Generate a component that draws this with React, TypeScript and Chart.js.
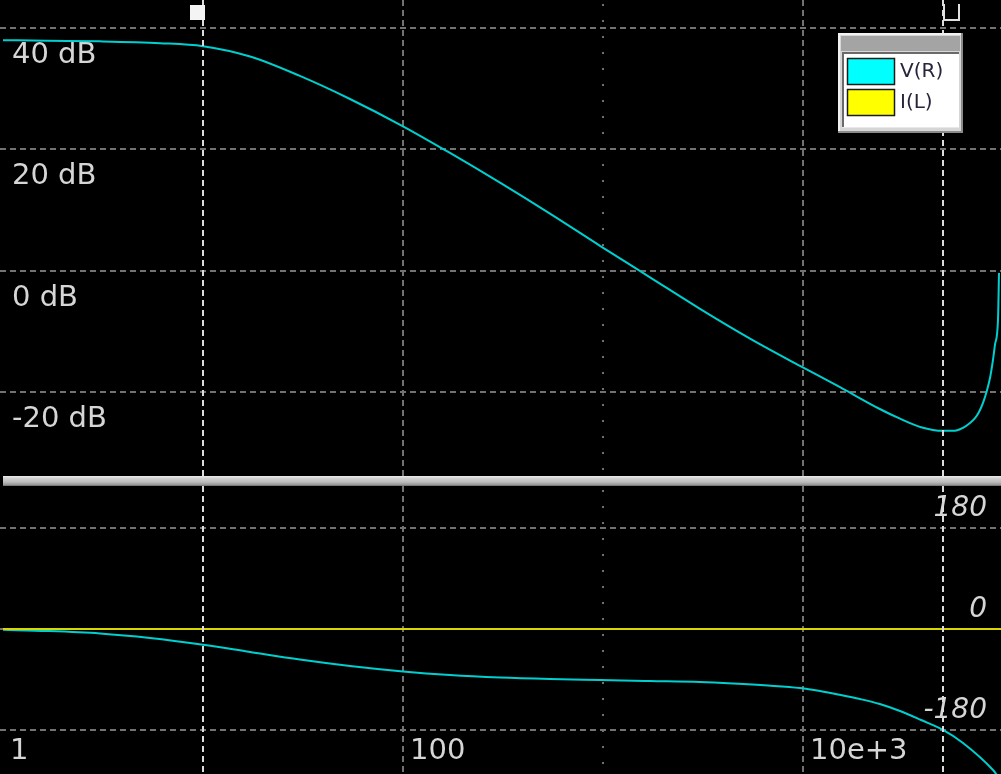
import React, { useEffect, useRef } from "react";
import { Chart, registerables } from "chart.js";

Chart.register(...registerables);

// ---- data ----
const seriesNames = ["V(R)", "I(L)"];

// V(R) magnitude (dB) against frequency (Hz)
const magFreqHz = [
  1, 1.66, 3.05, 6.1, 10, 17.2, 30.5, 54.3, 100, 171.8, 305.5, 543, 966, 1718,
  3055, 5433, 9661, 15311, 24210, 30549, 38905, 50119, 57544, 63096, 68391,
  72444, 75858, 79433, 83176, 86099, 89125, 91201, 94406, 95499,
];
const magDb = [
  38.0, 37.9, 37.8, 37.5, 37.0, 35.3, 32.1, 28.3, 23.8, 19.4, 14.5, 9.4, 4.1,
  -1.1, -6.3, -11.2, -15.7, -19.2, -22.8, -24.4, -25.8, -26.4, -26.4, -25.9,
  -25.1, -24.3, -23.3, -21.8, -19.7, -17.7, -14.7, -12.2, -8.1, -0.4,
];

// V(R) phase (degrees) against frequency (Hz)
const phaseFreqHz = [
  1, 1.66, 3.05, 5.43, 10, 17.2, 30.5, 54.3, 100, 171.8, 305.5, 543, 966, 1718,
  3055, 4467, 6683, 9661, 12162, 15311, 19275, 24210, 30549, 38905, 50119,
  63096, 89125, 93325,
];
const phaseDeg = [
  -1.5, -3.6, -8.0, -16.0, -28.0, -41.0, -54.5, -66.0, -75.7, -82.0, -86.4,
  -89.1, -90.9, -92.7, -94.5, -97.1, -100.7, -105.2, -110.5, -117.3, -124.8,
  -133.7, -146.2, -162.2, -180.0, -203.2, -251.3, -260.2,
];

// I(L) phase (degrees)
const currentFreqHz = [1, 97724];
const currentPhaseDeg = [0, 0];

// axes
const freqMin = 0.96605;
const freqMax = 97724;
const magMin = -33.846;
const magMax = 44.615;
const phaseMin = -258.42;
const phaseMax = 254.85;

const magTicks = [40, 20, 0, -20];
const phaseTicks = [180, 0, -180];
const freqLabelValues = [1, 100, 10000];
const freqLabelText = ["1", "100", "10e+3"];
const majorFreqGrid = [100, 10000];
const minorFreqGrid = [1000];
const cursorFreqs = [10, 50119];

// ---- styles ----
const GRID_COLOR = "#727272";
const CURSOR_COLOR = "#dcdcdc";
const LABEL_COLOR = "#d6d6d6";
const VR_LINE = "#00cfcf";
const IL_LINE = "#d8d800";
const SWATCHES = ["#00ffff", "#ffff00"];
const FONT = '"DejaVu Sans", Verdana, sans-serif';

function hLine(ctx: CanvasRenderingContext2D, x0: number, x1: number, y: number) {
  ctx.beginPath();
  ctx.moveTo(x0, y);
  ctx.lineTo(x1, y);
  ctx.stroke();
}
function vLine(ctx: CanvasRenderingContext2D, x: number, y0: number, y1: number) {
  ctx.beginPath();
  ctx.moveTo(x, y0);
  ctx.lineTo(x, y1);
  ctx.stroke();
}

function drawGrid(chart: any, hValues: number[]) {
  const { ctx, chartArea, scales } = chart;
  const { left, right, top, bottom } = chartArea;
  ctx.save();
  ctx.strokeStyle = GRID_COLOR;
  ctx.lineWidth = 2;
  ctx.setLineDash([6, 4]);
  hValues.forEach((v) => hLine(ctx, left, right, Math.round(scales.y.getPixelForValue(v))));
  majorFreqGrid.forEach((f) => vLine(ctx, Math.round(scales.x.getPixelForValue(f)), top, bottom));
  ctx.setLineDash([2, 14]);
  minorFreqGrid.forEach((f) => vLine(ctx, Math.round(scales.x.getPixelForValue(f)), top + 4, bottom));
  ctx.restore();
}

function drawCursors(chart: any) {
  const { ctx, chartArea, scales } = chart;
  ctx.save();
  ctx.strokeStyle = CURSOR_COLOR;
  ctx.lineWidth = 2;
  ctx.setLineDash([6, 4]);
  cursorFreqs.forEach((f) =>
    vLine(ctx, Math.round(scales.x.getPixelForValue(f)), chartArea.top, chartArea.bottom)
  );
  ctx.restore();
}

const magPanel = {
  id: "magPanel",
  beforeDatasetsDraw(chart: any) {
    drawGrid(chart, magTicks);
    const { ctx, scales } = chart;
    ctx.save();
    ctx.font = `29px ${FONT}`;
    ctx.fillStyle = LABEL_COLOR;
    ctx.textAlign = "left";
    ctx.textBaseline = "alphabetic";
    magTicks.forEach((v) => {
      const py = scales.y.getPixelForValue(v);
      ctx.fillText(`${v} dB`, 12, py + 35);
    });
    ctx.restore();
  },
  afterDatasetsDraw(chart: any) {
    drawCursors(chart);
    const { ctx, scales, chartArea } = chart;
    ctx.save();
    // cursor handles
    const c1 = Math.round(scales.x.getPixelForValue(cursorFreqs[0]));
    const c2 = Math.round(scales.x.getPixelForValue(cursorFreqs[1]));
    ctx.fillStyle = "#f4f4f4";
    ctx.fillRect(c1 - 13, 5, 15, 15);
    ctx.strokeStyle = "#e0e0e0";
    ctx.lineWidth = 2;
    ctx.beginPath();
    ctx.moveTo(c2 + 1, 4);
    ctx.lineTo(c2 + 1, 20);
    ctx.lineTo(c2 + 16, 20);
    ctx.lineTo(c2 + 16, 4);
    ctx.stroke();

    // legend window
    const lx = chartArea.right - 163;
    const ly = 33;
    const lw = 125;
    const lh = 100;
    ctx.fillStyle = "#d6d6d6";
    ctx.fillRect(lx, ly, lw, lh);
    ctx.fillStyle = "#f2f2f2";
    ctx.fillRect(lx, ly, lw, 2);
    ctx.fillRect(lx, ly, 2, lh);
    ctx.fillStyle = "#8a8a8a";
    ctx.fillRect(lx, ly + lh - 2, lw, 2);
    ctx.fillRect(lx + lw - 2, ly, 2, lh);
    ctx.fillStyle = "#a4a4a4";
    ctx.fillRect(lx + 3, ly + 3, lw - 6, 15);
    // inner client area
    const ix = lx + 4;
    const iy = ly + 19;
    const iw = lw - 8;
    const ih = lh - 24;
    ctx.fillStyle = "#ffffff";
    ctx.fillRect(ix, iy, iw, ih);
    ctx.fillStyle = "#6a6a6a";
    ctx.fillRect(ix, iy, iw, 2);
    ctx.fillRect(ix, iy, 2, ih);
    ctx.fillStyle = "#e8e8e8";
    ctx.fillRect(ix, iy + ih - 1, iw, 1);

    ctx.font = `20px ${FONT}`;
    ctx.textAlign = "left";
    ctx.textBaseline = "middle";
    seriesNames.forEach((name, i) => {
      const sy = iy + 6 + i * 31;
      ctx.fillStyle = SWATCHES[i];
      ctx.fillRect(ix + 5, sy, 48, 27);
      ctx.strokeStyle = "#1a1a1a";
      ctx.lineWidth = 1.5;
      ctx.setLineDash([]);
      ctx.strokeRect(ix + 5.5, sy + 0.5, 47, 26);
      ctx.fillStyle = "#26263a";
      ctx.fillText(name, ix + 58, sy + 14);
    });
    ctx.restore();
  },
};

const phasePanel = {
  id: "phasePanel",
  beforeDatasetsDraw(chart: any) {
    drawGrid(chart, phaseTicks);
    const { ctx, scales, chartArea } = chart;
    ctx.save();
    ctx.fillStyle = LABEL_COLOR;
    ctx.font = `italic 28px ${FONT}`;
    ctx.textAlign = "right";
    ctx.textBaseline = "alphabetic";
    phaseTicks.forEach((v) => {
      const py = scales.y.getPixelForValue(v);
      ctx.fillText(`${v}`, chartArea.right - 14, py - 12);
    });
    ctx.font = `29px ${FONT}`;
    ctx.textAlign = "left";
    freqLabelValues.forEach((f, i) => {
      const px = scales.x.getPixelForValue(f);
      ctx.fillText(freqLabelText[i], px + 7, chartArea.bottom - 15);
    });
    ctx.restore();
  },
  afterDatasetsDraw(chart: any) {
    drawCursors(chart);
  },
};

function baseOptions(yMin: number, yMax: number) {
  return {
    animation: false as const,
    responsive: false,
    maintainAspectRatio: false,
    events: [],
    layout: { padding: 0 },
    plugins: { legend: { display: false }, tooltip: { enabled: false } },
    scales: {
      x: { type: "logarithmic" as const, min: freqMin, max: freqMax, display: false },
      y: { type: "linear" as const, min: yMin, max: yMax, display: false },
    },
  };
}

export default function App() {
  const magRef = useRef<HTMLCanvasElement>(null);
  const phaseRef = useRef<HTMLCanvasElement>(null);

  useEffect(() => {
    const magChart = new Chart(magRef.current as HTMLCanvasElement, {
      type: "line",
      data: {
        datasets: [
          {
            label: seriesNames[0],
            data: magFreqHz.map((f, i) => ({ x: f, y: magDb[i] })),
            borderColor: VR_LINE,
            borderWidth: 2,
            pointRadius: 0,
            cubicInterpolationMode: "monotone",
          },
        ],
      },
      options: baseOptions(magMin, magMax) as any,
      plugins: [magPanel],
    });

    const phaseChart = new Chart(phaseRef.current as HTMLCanvasElement, {
      type: "line",
      data: {
        datasets: [
          {
            label: seriesNames[0],
            data: phaseFreqHz.map((f, i) => ({ x: f, y: phaseDeg[i] })),
            borderColor: VR_LINE,
            borderWidth: 2,
            pointRadius: 0,
            cubicInterpolationMode: "monotone",
            order: 2,
          },
          {
            label: seriesNames[1],
            data: currentFreqHz.map((f, i) => ({ x: f, y: currentPhaseDeg[i] })),
            borderColor: IL_LINE,
            borderWidth: 2,
            pointRadius: 0,
            order: 1,
          },
        ],
      },
      options: baseOptions(phaseMin, phaseMax) as any,
      plugins: [phasePanel],
    });

    return () => {
      magChart.destroy();
      phaseChart.destroy();
    };
  }, []);

  return (
    <div
      style={{
        position: "fixed",
        left: 0,
        top: 0,
        width: 1001,
        height: 774,
        background: "#000",
        overflow: "hidden",
      }}
    >
      <canvas
        ref={magRef}
        width={1001}
        height={476}
        style={{ position: "absolute", left: 0, top: 0, display: "block" }}
      />
      <div
        style={{
          position: "absolute",
          left: 3,
          top: 476,
          width: 998,
          height: 10,
          background:
            "linear-gradient(#ececec 0%, #d0d0d0 25%, #bcbcbc 60%, #9a9a9a 85%, #6a6a6a 100%)",
        }}
      />
      <canvas
        ref={phaseRef}
        width={1001}
        height={288}
        style={{ position: "absolute", left: 0, top: 486, display: "block" }}
      />
    </div>
  );
}
